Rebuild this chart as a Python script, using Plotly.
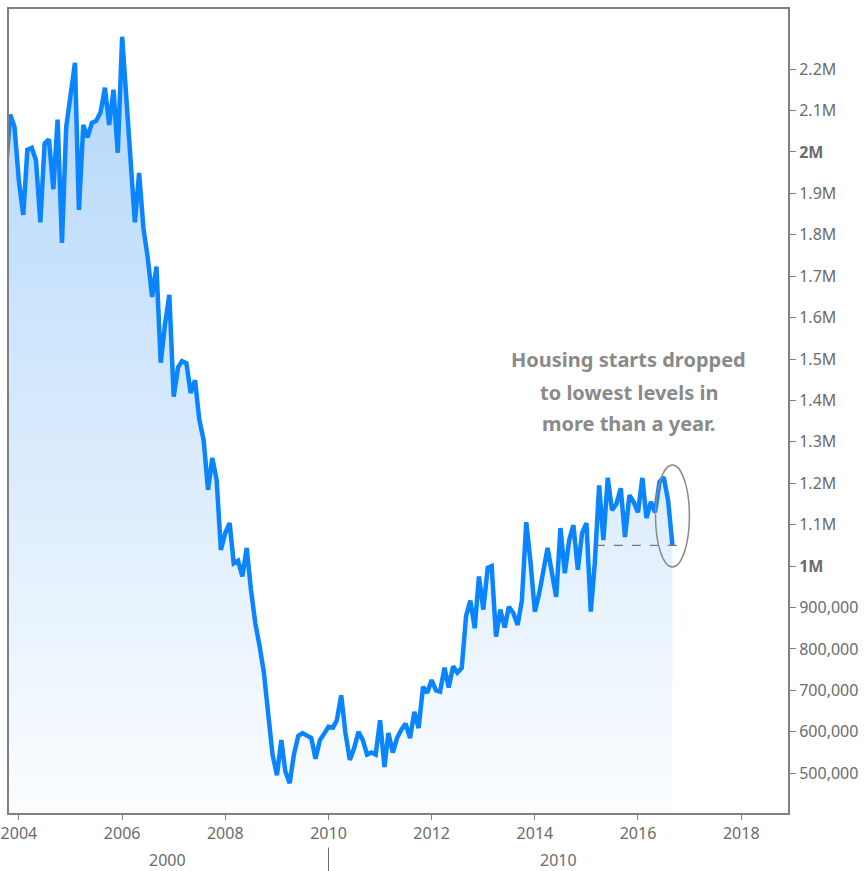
import pandas as pd
import plotly.graph_objects as go

# Monthly US housing starts (SAAR), Oct 2003 - Sep 2016
months = pd.date_range("2003-10-01", "2016-09-01", freq="MS")
starts_k = [
    1960, 2090, 2060,
    1930, 1848, 2005, 2010, 1980, 1830, 2020, 2030, 1910, 2078, 1780, 2060,
    2140, 2215, 1860, 2065, 2035, 2070, 2075, 2095, 2155, 2065, 2150, 1998,
    2278, 2115, 1960, 1830, 1949, 1815, 1745, 1650, 1723, 1491, 1585, 1655,
    1409, 1480, 1495, 1490, 1418, 1449, 1354, 1304, 1184, 1261, 1208, 1039,
    1080, 1104, 1007, 1013, 975, 1044, 943, 862, 805, 742, 640, 545,
    495, 580, 505, 476, 545, 590, 597, 592, 585, 535, 580, 595,
    612, 610, 628, 688, 597, 532, 560, 600, 580, 545, 550, 545,
    628, 515, 597, 550, 585, 605, 620, 585, 648, 609, 709, 694,
    725, 700, 697, 755, 707, 758, 743, 754, 880, 917, 850, 975,
    895, 996, 1000, 830, 895, 852, 902, 887, 858, 917, 1106, 1010,
    890, 935, 991, 1044, 985, 926, 1092, 983, 1063, 1099, 991, 1080,
    1104, 890, 1007, 1195, 1063, 1213, 1135, 1150, 1188, 1070, 1171, 1155,
    1130, 1213, 1116, 1155, 1130, 1203, 1215, 1159, 1050,
]
values = [v * 1000 for v in starts_k]

y_tickvals = [500000, 600000, 700000, 800000, 900000, 1000000, 1100000, 1200000,
              1300000, 1400000, 1500000, 1600000, 1700000, 1800000, 1900000,
              2000000, 2100000, 2200000]
y_ticktext = ["500,000", "600,000", "700,000", "800,000", "900,000", "<b>1M</b>",
              "1.1M", "1.2M", "1.3M", "1.4M", "1.5M", "1.6M", "1.7M", "1.8M",
              "1.9M", "<b>2M</b>", "2.1M", "2.2M"]
x_tickvals = ["2004-01-01", "2006-01-01", "2008-01-01", "2010-01-01",
              "2012-01-01", "2014-01-01", "2016-01-01", "2018-01-01"]
x_ticktext = ["2004", "2006", "2008", "2010", "2012", "2014", "2016", "2018"]
decade_labels = ["2000", "2010"]
decade_pos = ["2006-11-20", "2014-06-18"]
note_lines = ["Housing starts dropped", "to lowest levels in", "more than a year."]

LINE = "#0a84ff"
GRAY = "#6b6b6b"
FRAME = "#808080"

fig = go.Figure()
fig.add_trace(go.Scatter(
    x=months, y=values, mode="lines",
    line=dict(color=LINE, width=4.5),
    fill="tozeroy",
    fillgradient=dict(type="vertical", start=404000, stop=2300000,
                      colorscale=[[0, "rgb(251,253,255)"], [1, "rgb(178,214,250)"]]),
    hoverinfo="x+y", showlegend=False,
))

last_val = values[-1]
last_date = months[-1]
# where the series last rose above the latest level (start of dashed guide)
idx = max(i for i in range(len(values) - 1) if values[i] < last_val)
frac = (last_val - values[idx]) / (values[idx + 1] - values[idx])
start_date = months[idx] + (months[idx + 1] - months[idx]) * frac

fig.add_trace(go.Scatter(
    x=[pd.Timestamp("2019-01-19")], y=[last_val], mode="markers",
    marker=dict(symbol="diamond", size=11, color=LINE),
    cliponaxis=False, showlegend=False, hoverinfo="skip",
))

shapes = [
    dict(type="line", xref="x", yref="y", x0=start_date,
         x1=last_date + pd.Timedelta(days=55), y0=last_val, y1=last_val,
         line=dict(color="#777777", width=1.2, dash="dash")),
    dict(type="circle", xref="x", yref="y",
         x0=last_date - pd.Timedelta(days=120), x1=last_date + pd.Timedelta(days=120),
         y0=last_val - 52000, y1=last_val + 194000,
         line=dict(color="#8a8a8a", width=1.5)),
    dict(type="line", xref="x", yref="paper", x0="2010-01-01", x1="2010-01-01",
         y0=-0.043, y1=-0.08, line=dict(color=GRAY, width=1)),
]

annotations = []
for lab, pos in zip(decade_labels, decade_pos):
    annotations.append(dict(x=pos, y=-0.058, xref="x", yref="paper", text=lab,
                            showarrow=False, yanchor="middle",
                            font=dict(family="Noto Sans", size=16, color=GRAY)))
note_y = [1498000, 1420000, 1345000]
for txt, yy in zip(note_lines, note_y):
    annotations.append(dict(x="2015-10-27", y=yy, xref="x", yref="y", text="<b>" + txt + "</b>",
                            showarrow=False, xanchor="center", yanchor="middle",
                            font=dict(family="Noto Sans", size=20, color="#8a8a8a")))

fig.update_layout(
    width=868, height=871,
    margin=dict(l=9, r=80, t=9, b=58, pad=0, autoexpand=False),
    paper_bgcolor="white", plot_bgcolor="white",
    shapes=shapes, annotations=annotations,
    xaxis=dict(type="date", range=["2003-10-23", "2018-11-28"], automargin=False,
               tickvals=x_tickvals, ticktext=x_ticktext,
               ticks="outside", ticklen=5, tickcolor=FRAME, tickwidth=1,
               showgrid=False, zeroline=False,
               showline=True, mirror=True, linecolor=FRAME, linewidth=2,
               tickfont=dict(family="Noto Sans", size=16, color=GRAY)),
    yaxis=dict(side="right", range=[404000, 2345000], automargin=False,
               tickvals=y_tickvals, ticktext=y_ticktext,
               ticks="outside", ticklen=6, tickcolor=FRAME, tickwidth=1,
               showgrid=False, zeroline=False,
               showline=True, mirror=True, linecolor=FRAME, linewidth=2,
               tickfont=dict(family="Noto Sans", size=16, color=GRAY)),
)

fig.write_html("out.html", config={"displayModeBar": False},
               post_script="document.body.style.margin='0';document.body.style.overflow='hidden';")
